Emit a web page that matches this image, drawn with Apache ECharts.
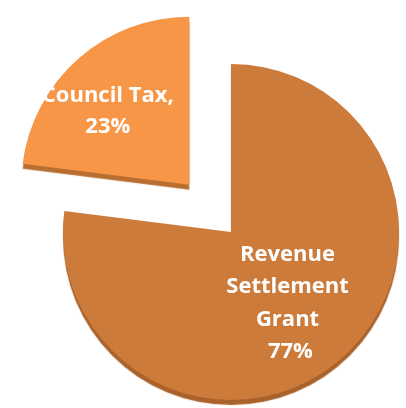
<!DOCTYPE html>
<html>
<head>
<meta charset="utf-8">
<script src="https://cdn.jsdelivr.net/npm/echarts@6/dist/echarts.min.js"></script>
<style>html,body{margin:0;padding:0;background:#fff;}#c{width:406px;height:408px;}</style>
</head>
<body>
<div id="c"></div>
<script>
var categories = ['Revenue Settlement Grant', 'Council Tax'];
var values = [77, 23];
var labelTexts = ['Revenue\nSettlement\nGrant\n 77%', 'Council Tax,\n23%'];
var exploded = [false, true];
var colors = ['#CC7B3A', '#F79646'];
var edgeColors = ['#A9622B', '#B96E31'];

var chart = echarts.init(document.getElementById('c'), null, {renderer: 'canvas'});
var data = categories.map(function (name, i) {
  return {
    name: name,
    value: values[i],
    selected: exploded[i],
    itemStyle: {
      color: colors[i],
      shadowColor: edgeColors[i],
      shadowBlur: 1,
      shadowOffsetX: 0,
      shadowOffsetY: 5
    },
    label: { formatter: labelTexts[i], lineHeight: i === 0 ? 32.5 : 31 }
  };
});
chart.setOption({
  animation: false,
  series: [{
    type: 'pie',
    center: [231, 232],
    radius: 168,
    startAngle: 90,
    clockwise: true,
    selectedMode: 'single',
    selectedOffset: 63,
    avoidLabelOverlap: false,
    silent: true,
    emphasis: { disabled: true },
    label: {
      show: true,
      position: 'inside',
      color: '#ffffff',
      fontFamily: '"Open Sans", sans-serif',
      fontWeight: 'bold',
      fontSize: 22,
      align: 'center'
    },
    labelLine: { show: false },
    labelLayout: function (p) {
      if (p.dataIndex === 1) return { dx: -24, dy: -8 };
      return { dx: -1, dy: 6 };
    },
    data: data
  }]
});
</script>
</body>
</html>
